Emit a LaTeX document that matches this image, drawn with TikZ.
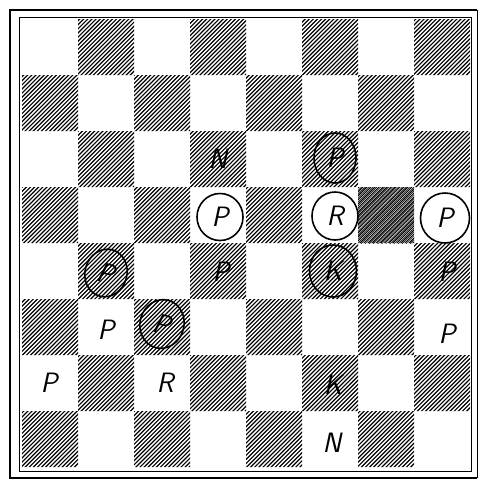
\documentclass[tikz,border=0pt]{standalone}
\usetikzlibrary{shapes.geometric}
\begin{document}
\begin{tikzpicture}[x=1pt,y=-1pt,
  pc/.style={font=\fontsize{28}{28}\selectfont\sffamily\slshape, inner sep=0pt},
  ring/.style={pc, draw, ellipse, line width=1.6pt},
  hatch/.style={line width=1.15pt, black},
  frameout/.style={line width=2.6pt},
  framein/.style={line width=0.9pt}]
\useasboundingbox (0,0) rectangle (478,480);
% frames
\draw[frameout] (477,10) -- (10,10) -- (10,478) -- (477,478);
\draw[line width=0.8pt] (477,10) -- (477,478);
\draw[framein] (19,17) rectangle (471,471);
% dark squares hatching
\begin{scope}
  \clip
    \foreach \r in {1,...,8}{
      \foreach \c in {1,...,8}{
        \pgfextra{\pgfmathtruncatemacro\odd{mod(\r+\c,2)}}
        \ifnum\odd=1
          ({22+(\c-1)*56},{19+(\r-1)*56}) rectangle ++(56,56)
        \fi
      }
    };
  \foreach \k in {-120,...,120}{
    \draw[hatch] ({\k*4.1},480) -- ({\k*4.1+480},0);
  }
\end{scope}
% darker square
\begin{scope}
  \clip (358,187) rectangle ++(56,56);
  \foreach \k in {-120,...,120}{
    \draw[line width=0.5pt] ({\k*4.1+2},480) -- ({\k*4.1+482},0);
  }
\end{scope}
% pieces
\node[pc] (n43) at (218,159) {N};
\node[ring, minimum width=42pt, minimum height=50pt] (p63) at (335,158) {P};
\node[ring, minimum width=46pt, minimum height=47pt] (p44) at (220,217) {P};
\node[ring, minimum width=46pt, minimum height=48pt] (r64) at (335,216) {R};
\node[ring, minimum width=49pt, minimum height=50pt] (p84) at (445,218) {P};
\node[pc] (p45) at (221,272) {P};
\node[ring, minimum width=47pt, minimum height=52pt] (k65) at (333,271) {K};
\node[pc] (p85) at (447,272) {P};
\node[ring, minimum width=42pt, minimum height=48pt, rotate=-15] (p25) at (106,273) {P};
\node[pc] (p26) at (106,330) {P};
\node[ring, minimum width=44pt, minimum height=49pt, rotate=-15] (p36) at (162,324) {P};
\node[pc] (p86) at (447,334) {P};
\node[pc] (p17) at (49,383) {P};
\node[pc] (r37) at (165,383) {R};
\node[pc] (k67) at (333,385) {K};
\node[pc] (n68) at (332,443) {N};
\end{tikzpicture}
\end{document}
